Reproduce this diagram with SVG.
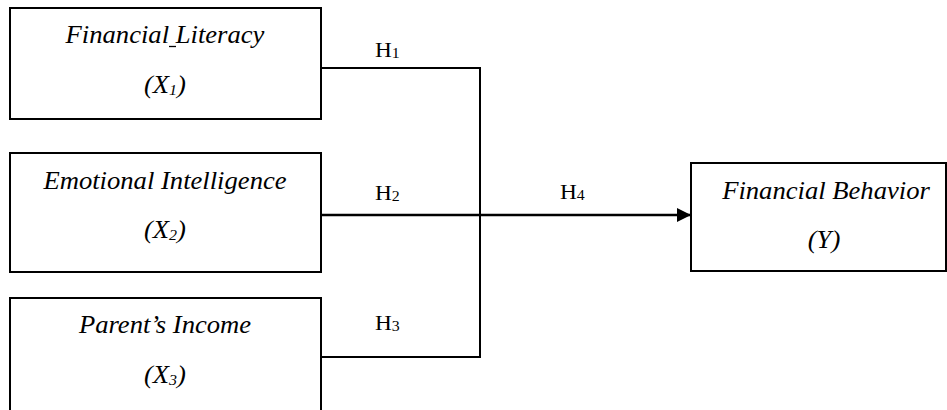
<svg xmlns="http://www.w3.org/2000/svg" width="947" height="410" viewBox="0 0 947 410">
<style>
.box{fill:#fff;stroke:#000;stroke-width:2}
.t{font-family:"Liberation Serif","Times New Roman",serif;font-style:italic;font-size:25px;fill:#000}
.h{font-family:"Liberation Serif","Times New Roman",serif;font-size:22px;fill:#000}
.sub{font-size:15px}
.ln{fill:none;stroke:#000;stroke-width:2}
.arr{fill:none;stroke:#000;stroke-width:2.6}
</style>
<defs>
<marker id="ah" markerWidth="14" markerHeight="14" viewBox="0 0 14 14" refX="14" refY="7" orient="auto" markerUnits="userSpaceOnUse">
<path d="M0,0 L14,7 L0,14 Z" fill="#000"/>
</marker>
</defs>
<rect width="947" height="410" fill="#fff"/>
<g id="connectors">
<path class="ln" d="M321,68 H480 V357 H321"/>
<path class="arr" d="M321,215 H691" marker-end="url(#ah)"/>
<text class="h" transform="matrix(1.06 0 0 1 375 57)">H<tspan class="sub" dy="1">1</tspan></text>
<text class="h" transform="matrix(1.06 0 0 1 375 200)">H<tspan class="sub" dy="1">2</tspan></text>
<text class="h" transform="matrix(1.06 0 0 1 375 330)">H<tspan class="sub" dy="1">3</tspan></text>
<text class="h" transform="matrix(1.06 0 0 1 560 199)">H<tspan class="sub" dy="1">4</tspan></text>
</g>
<g id="x1">
<rect class="box" x="10" y="8" width="311" height="111"/>
<text class="t" text-anchor="middle" transform="matrix(1.065 0 0 1 165 43)">Financial Literacy</text>
<line x1="169" y1="46.5" x2="176" y2="46.5" stroke="#000" stroke-width="1.3"/>
<text class="t" text-anchor="middle" transform="matrix(1.065 0 0 1 165 93)">(X<tspan class="sub" dy="2">1</tspan><tspan dy="-2">)</tspan></text>
</g>
<g id="x2">
<rect class="box" x="10" y="153" width="311" height="119"/>
<text class="t" text-anchor="middle" transform="matrix(1.065 0 0 1 165 189)">Emotional Intelligence</text>
<text class="t" text-anchor="middle" transform="matrix(1.065 0 0 1 165 238)">(X<tspan class="sub" dy="2">2</tspan><tspan dy="-2">)</tspan></text>
</g>
<g id="x3">
<rect class="box" x="10" y="298" width="311" height="130"/>
<text class="t" text-anchor="middle" transform="matrix(1.065 0 0 1 165 333)">Parent’s Income</text>
<text class="t" text-anchor="middle" transform="matrix(1.065 0 0 1 165 383)">(X<tspan class="sub" dy="2">3</tspan><tspan dy="-2">)</tspan></text>
</g>
<g id="y">
<rect class="box" x="691" y="163" width="255" height="108"/>
<text class="t" text-anchor="middle" transform="matrix(1.065 0 0 1 826 199)">Financial Behavior</text>
<text class="t" text-anchor="middle" transform="matrix(1.065 0 0 1 824 248)">(Y)</text>
</g>
</svg>
